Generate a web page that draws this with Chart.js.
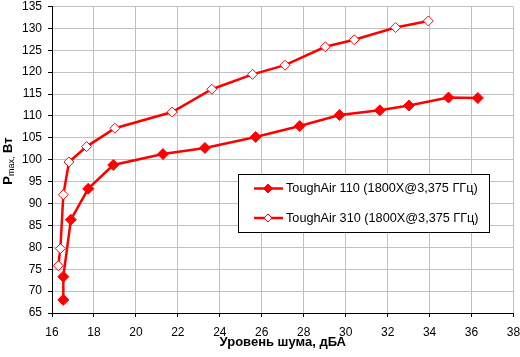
<!DOCTYPE html>
<html>
<head>
<meta charset="utf-8">
<script src="https://cdn.jsdelivr.net/npm/chart.js@4"></script>
<style>
html,body{margin:0;padding:0;background:#fff;}
canvas{display:block;}
</style>
</head>
<body>
<canvas id="c" width="520" height="357"></canvas>
<script>
// Data
const seriesNames = ['ToughAir 110 (1800X@3,375 ГГц)', 'ToughAir 310 (1800X@3,375 ГГц)'];
const noise110 = [16.54, 16.54, 16.9, 17.73, 18.92, 21.29, 23.29, 25.71, 27.81, 29.71, 31.63, 33.02, 34.9, 36.3];
const power110 = [68.0, 73.3, 86.3, 93.4, 98.8, 101.3, 102.7, 105.2, 107.7, 110.2, 111.3, 112.4, 114.2, 114.1];
const noise310 = [16.30, 16.40, 16.54, 16.81, 17.65, 19.0, 21.73, 23.62, 25.56, 27.11, 29.03, 30.41, 32.38, 33.94];
const power310 = [75.8, 79.7, 92.0, 99.5, 103.0, 107.2, 110.9, 116.1, 119.5, 121.6, 125.8, 127.4, 130.2, 131.7];
const xTitle = 'Уровень шума, дБА';
const yTitleMain = 'P';
const yTitleSub = 'max,';
const yTitleRest = ' Вт';

const toPts = (xs, ys) => xs.map((x, i) => ({x: x, y: ys[i]}));
const FONT = '"Liberation Sans", Arial, sans-serif';

const extras = {
  id: 'extras',
  afterDraw(chart) {
    const ctx = chart.ctx;
    // Y axis title with subscript
    ctx.save();
    ctx.fillStyle = '#000';
    ctx.textBaseline = 'alphabetic';
    const fBig = 'bold 13px ' + FONT;
    const fSub = '9px ' + FONT;
    ctx.font = fBig; const w1 = ctx.measureText(yTitleMain).width;
    ctx.font = fSub; const w2 = ctx.measureText(yTitleSub).width;
    ctx.font = fBig; const w3 = ctx.measureText(yTitleRest).width;
    const total = w1 + w2 + w3;
    const cy = 161;
    ctx.translate(12, cy + total / 2);
    ctx.rotate(-Math.PI / 2);
    ctx.font = fBig; ctx.textAlign = 'left';
    ctx.fillText(yTitleMain, 0, 0);
    ctx.font = fSub;
    ctx.fillText(yTitleSub, w1, 2);
    ctx.font = fBig;
    ctx.fillText(yTitleRest, w1 + w2, 0);
    ctx.restore();

    // Legend
    ctx.save();
    const lx = 238.5, ly = 174.5, lw = 251, lh = 58;
    ctx.fillStyle = '#fff';
    ctx.fillRect(lx, ly, lw, lh);
    ctx.strokeStyle = '#000';
    ctx.lineWidth = 1;
    ctx.strokeRect(lx, ly, lw, lh);
    const rows = [188.5, 218];
    chart.data.datasets.forEach((ds, i) => {
      const y = rows[i];
      ctx.strokeStyle = ds.borderColor;
      ctx.lineWidth = ds.borderWidth;
      ctx.beginPath();
      ctx.moveTo(254, y);
      ctx.lineTo(283, y);
      ctx.stroke();
      ctx.fillStyle = ds.pointBackgroundColor;
      ctx.strokeStyle = ds.pointBorderColor;
      ctx.lineWidth = 1;
      const r = ds.pointRadius - 1;
      ctx.beginPath();
      ctx.moveTo(268, y - r);
      ctx.lineTo(268 + r, y);
      ctx.lineTo(268, y + r);
      ctx.lineTo(268 - r, y);
      ctx.closePath();
      ctx.fill();
      ctx.stroke();
      ctx.fillStyle = '#000';
      ctx.font = '12.7px ' + FONT;
      ctx.textAlign = 'left';
      ctx.textBaseline = 'middle';
      ctx.fillText(ds.label, 286, y);
    });
    ctx.restore();
  }
};

new Chart(document.getElementById('c'), {
  type: 'line',
  data: {
    datasets: [
      {
        label: seriesNames[0],
        data: toPts(noise110, power110),
        borderColor: '#ff0000',
        backgroundColor: '#ff0000',
        borderWidth: 2.5,
        pointStyle: 'rectRot',
        pointRadius: 5.5,
        pointBackgroundColor: '#ff0000',
        pointBorderColor: '#ff0000',
        pointBorderWidth: 1,
        tension: 0,
        order: 2
      },
      {
        label: seriesNames[1],
        data: toPts(noise310, power310),
        borderColor: '#ff0000',
        backgroundColor: '#ffffff',
        borderWidth: 2.5,
        pointStyle: 'rectRot',
        pointRadius: 5,
        pointBackgroundColor: '#ffffff',
        pointBorderColor: '#ff0000',
        pointBorderWidth: 1,
        tension: 0,
        order: 1
      }
    ]
  },
  options: {
    responsive: false,
    animation: false,
    devicePixelRatio: 1,
    layout: {padding: {left: 0, top: 5, right: 6, bottom: 0}},
    plugins: {legend: {display: false}, tooltip: {enabled: false}},
    scales: {
      x: {
        type: 'linear',
        min: 16, max: 38,
        ticks: {stepSize: 2, color: '#000', font: {family: FONT, size: 12}, padding: 8, maxRotation: 0},
        grid: {color: '#c0c0c0', lineWidth: 1, tickLength: 4, tickColor: '#000', drawTicks: true},
        border: {display: true, color: '#000', width: 1},
        title: {display: true, text: xTitle, color: '#000', font: {family: FONT, size: 13, weight: 'bold'}, padding: {top: 0, bottom: 7}},
        afterFit(s) { s.height = 44; s.paddingLeft = 0; s.paddingRight = 0; }
      },
      y: {
        type: 'linear',
        min: 65, max: 135,
        ticks: {stepSize: 5, color: '#000', font: {family: FONT, size: 12}, padding: 6},
        grid: {color: '#c0c0c0', lineWidth: 1, tickLength: 4, tickColor: '#000', drawTicks: true},
        border: {display: true, color: '#000', width: 1},
        afterFit(s) { s.width = 52; s.paddingTop = 0; s.paddingBottom = 0; }
      }
    }
  },
  plugins: [extras]
});
</script>
</body>
</html>
